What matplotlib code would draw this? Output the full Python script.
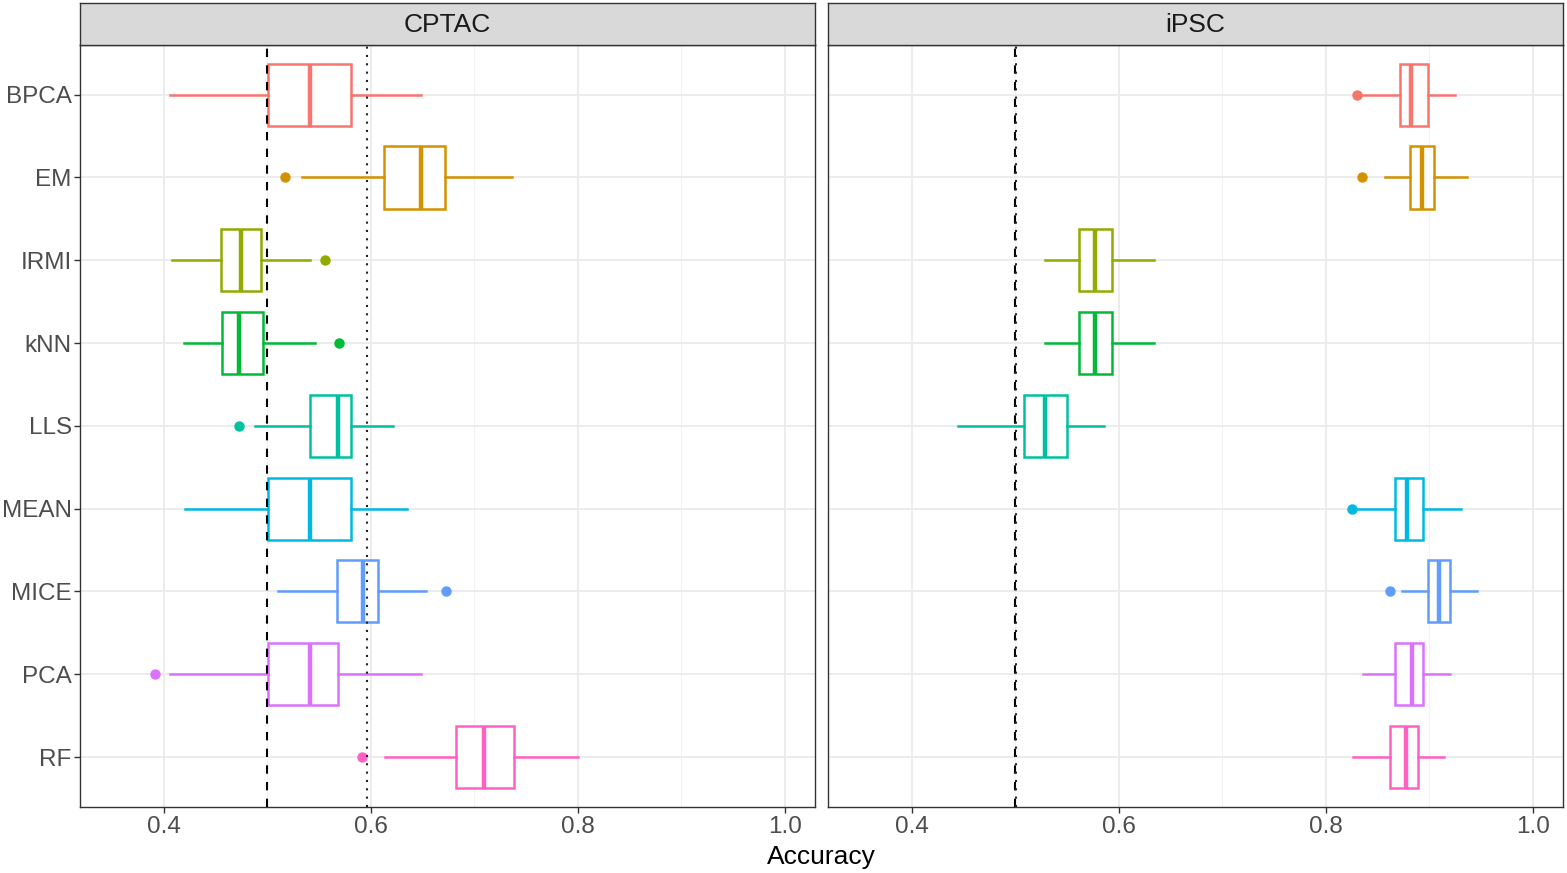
import matplotlib as mpl
mpl.use('Agg')
import matplotlib.pyplot as plt

#
#--- imputation methods (top to bottom) and the ggplot hue colours
#
methods = ['BPCA', 'EM', 'IRMI', 'kNN', 'LLS', 'MEAN', 'MICE', 'PCA', 'RF']
colors  = ['#F8766D', '#D39200', '#93AA00', '#00BA38', '#00C19F',
           '#00B9E3', '#619CFF', '#DB72FB', '#FF61C3']

#
#--- CPTAC box statistics
#
cptac_lo  = [0.406, 0.533, 0.408, 0.419, 0.488, 0.420, 0.510, 0.406, 0.614]
cptac_q1  = [0.501, 0.613, 0.455, 0.456, 0.541, 0.501, 0.567, 0.501, 0.682]
cptac_med = [0.541, 0.648, 0.475, 0.473, 0.568, 0.541, 0.592, 0.541, 0.709]
cptac_q3  = [0.581, 0.672, 0.494, 0.496, 0.581, 0.581, 0.607, 0.568, 0.738]
cptac_hi  = [0.648, 0.736, 0.541, 0.546, 0.621, 0.635, 0.653, 0.648, 0.800]
cptac_out = [[], [0.517], [0.556], [0.569], [0.473], [], [0.673], [0.391], [0.591]]

#
#--- iPSC box statistics
#
ipsc_lo  = [0.831, 0.857, 0.529, 0.529, 0.445, 0.826, 0.873, 0.836, 0.826]
ipsc_q1  = [0.872, 0.881, 0.561, 0.561, 0.508, 0.867, 0.899, 0.867, 0.862]
ipsc_med = [0.882, 0.893, 0.577, 0.577, 0.529, 0.878, 0.909, 0.883, 0.877]
ipsc_q3  = [0.899, 0.904, 0.593, 0.593, 0.550, 0.894, 0.920, 0.894, 0.889]
ipsc_hi  = [0.925, 0.936, 0.634, 0.634, 0.586, 0.930, 0.946, 0.920, 0.914]
ipsc_out = [[0.830], [0.835], [], [], [], [0.825], [0.862], [], []]

#
#--- reference lines: dashed = 0.5, dotted = per-dataset baseline
#
dashed_ref = [0.5, 0.5]
dotted_ref = [0.596, 0.501]

panels = ['CPTAC', 'iPSC']
xticks = [0.4, 0.6, 0.8, 1.0]
xminor = [0.5, 0.7, 0.9]

plt.rcParams['font.family'] = ['Liberation Sans', 'DejaVu Sans']

W, H = 1567.0, 873.0


def draw_panel(ax, lo, q1, med, q3, hi, out, dash_x, dot_x, show_y):
    """
    draw one facet of horizontal boxplots
    """
    ax.set_xlim(0.319, 1.029)
    ax.set_ylim(len(methods) + 0.6, 0.4)
#
#--- grid (theme_bw like)
#
    for x in xticks:
        ax.axvline(x, color='#EBEBEB', lw=1.3, zorder=0)
    for x in xminor:
        ax.axvline(x, color='#F2F2F2', lw=0.8, zorder=0)
    for i in range(len(methods)):
        ax.axhline(i + 1, color='#EBEBEB', lw=1.3, zorder=0)
#
#--- boxes
#
    for i in range(len(methods)):
        st = [dict(whislo=lo[i], q1=q1[i], med=med[i], q3=q3[i],
                   whishi=hi[i], fliers=out[i])]
        c = colors[i]
        ax.bxp(st, positions=[i + 1], widths=0.75, orientation='horizontal',
               showcaps=False, patch_artist=True,
               boxprops=dict(facecolor='white', edgecolor=c, lw=1.8),
               whiskerprops=dict(color=c, lw=1.8),
               medianprops=dict(color=c, lw=3.2),
               flierprops=dict(marker='o', markerfacecolor=c,
                               markeredgecolor=c, markersize=6.5),
               manage_ticks=False, zorder=2)
#
#--- reference lines
#
    ax.axvline(dash_x, color='black', lw=1.5, dashes=(4, 4), zorder=3)
    ax.axvline(dot_x, color='#222222', lw=1.5, dashes=(1, 3), zorder=3)

    ax.set_xticks(xticks)
    ax.set_xticklabels(['0.4', '0.6', '0.8', '1.0'])
    ax.set_yticks(range(1, len(methods) + 1))
    if show_y:
        ax.set_yticklabels(methods)
        ax.tick_params(axis='y', length=4, width=1, color='#333333',
                       labelsize=17.5, labelcolor='#4D4D4D', pad=2)
    else:
        ax.tick_params(axis='y', length=0, labelleft=False)
    ax.tick_params(axis='x', length=4, width=1, color='#333333',
                   labelsize=17.5, labelcolor='#4D4D4D', pad=3)

    for s in ax.spines.values():
        s.set_color('#333333')
        s.set_linewidth(1.0)


fig = plt.figure(figsize=(W / 100, H / 100), dpi=100)

lefts = [80, 828]
stats = [(cptac_lo, cptac_q1, cptac_med, cptac_q3, cptac_hi, cptac_out),
         (ipsc_lo, ipsc_q1, ipsc_med, ipsc_q3, ipsc_hi, ipsc_out)]

for k in range(2):
    ax = fig.add_axes([lefts[k] / W, (H - 806.7) / H, 735 / W, (806.7 - 45) / H])
    lo, q1, med, q3, hi, out = stats[k]
    draw_panel(ax, lo, q1, med, q3, hi, out, dashed_ref[k], dotted_ref[k], k == 0)
#
#--- facet strip
#
    sx = fig.add_axes([lefts[k] / W, (H - 45) / H, 735 / W, 42 / H])
    sx.set_xticks([])
    sx.set_yticks([])
    sx.set_facecolor('#D9D9D9')
    for s in sx.spines.values():
        s.set_color('#333333')
        s.set_linewidth(1.0)
    sx.text(0.5, 0.47, panels[k], ha='center', va='center', fontsize=19,
            color='#1A1A1A', transform=sx.transAxes)

fig.text((815 + 828) / 2 / W, 1 - 857 / H, 'Accuracy', ha='center', va='center',
         fontsize=19, color='black')

plt.savefig('out.png', dpi=100)
plt.close('all')
